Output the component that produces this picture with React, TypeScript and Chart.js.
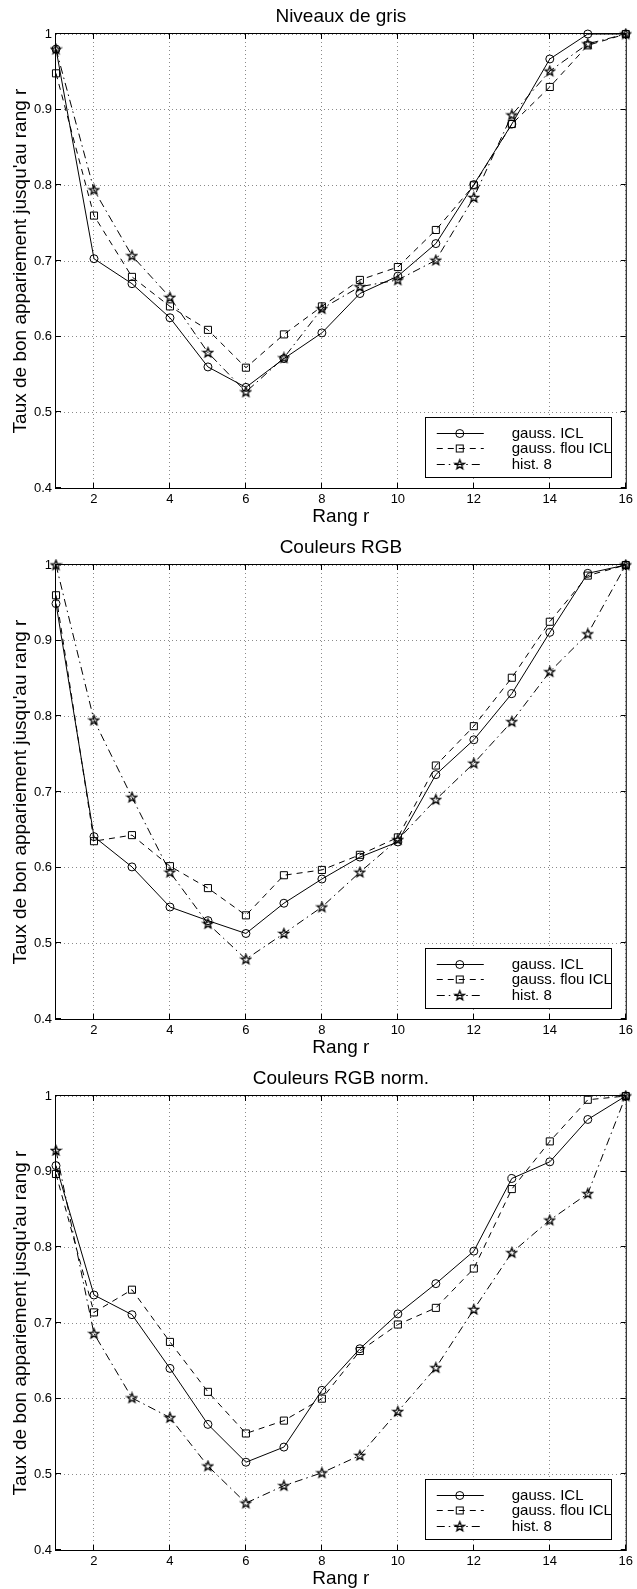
import React, { useEffect, useRef } from 'react';
import { Chart, registerables } from 'chart.js';

Chart.register(...registerables);

// ---------- data ----------
const RANKS = [1, 2, 3, 4, 5, 6, 7, 8, 9, 10, 11, 12, 13, 14, 15, 16];
const X_TICKS = [2, 4, 6, 8, 10, 12, 14, 16];
const Y_TICKS = [0.4, 0.5, 0.6, 0.7, 0.8, 0.9, 1];

const TITLES = ['Niveaux de gris', 'Couleurs RGB', 'Couleurs RGB norm.'];
const SERIES_LABELS = ['gauss. ICL', 'gauss. flou ICL', 'hist. 8'];
const X_LABEL = 'Rang r';
const Y_LABEL = "Taux de bon appariement jusqu'au rang r";

const GRIS_GAUSS = [0.98, 0.703, 0.67, 0.625, 0.56, 0.533, 0.571, 0.605, 0.657, 0.68, 0.723, 0.801, 0.881, 0.967, 1.0, 1.0];
const GRIS_FLOU = [0.948, 0.76, 0.679, 0.64, 0.609, 0.559, 0.603, 0.64, 0.675, 0.692, 0.741, 0.8, 0.881, 0.93, 0.985, 1.0];
const GRIS_HIST = [0.98, 0.794, 0.707, 0.652, 0.579, 0.527, 0.572, 0.637, 0.666, 0.675, 0.701, 0.784, 0.893, 0.951, 0.987, 1.0];

const RGB_GAUSS = [0.949, 0.641, 0.601, 0.548, 0.53, 0.513, 0.553, 0.585, 0.614, 0.634, 0.723, 0.769, 0.83, 0.911, 0.989, 1.0];
const RGB_FLOU = [0.96, 0.635, 0.643, 0.602, 0.573, 0.537, 0.59, 0.597, 0.617, 0.64, 0.735, 0.787, 0.851, 0.925, 0.986, 1.0];
const RGB_HIST = [1.0, 0.795, 0.693, 0.594, 0.526, 0.479, 0.513, 0.548, 0.594, 0.637, 0.69, 0.738, 0.793, 0.859, 0.909, 1.0];

const NORM_GAUSS = [0.908, 0.737, 0.711, 0.64, 0.566, 0.516, 0.536, 0.611, 0.666, 0.712, 0.752, 0.795, 0.891, 0.913, 0.969, 1.0];
const NORM_FLOU = [0.897, 0.714, 0.744, 0.675, 0.609, 0.554, 0.571, 0.6, 0.663, 0.698, 0.72, 0.772, 0.877, 0.94, 0.995, 1.0];
const NORM_HIST = [0.928, 0.686, 0.601, 0.575, 0.511, 0.462, 0.485, 0.502, 0.525, 0.583, 0.641, 0.718, 0.793, 0.836, 0.871, 1.0];

const PANELS = [
  [GRIS_GAUSS, GRIS_FLOU, GRIS_HIST],
  [RGB_GAUSS, RGB_FLOU, RGB_HIST],
  [NORM_GAUSS, NORM_FLOU, NORM_HIST],
];
const PANEL_HEIGHTS = [531, 531, 527];

// ---------- styles ----------
const FONT = '"Liberation Sans", Arial, Helvetica, sans-serif';
const DASHES: number[][] = [[], [6, 5], [8, 4, 1.5, 4]];
const PLOT_TOP = 34;
const PLOT_BOTTOM = 488;
const Y_AXIS_W = 56;
const RIGHT_PAD = 7;

let starImg: HTMLCanvasElement | null = null;
function getStar(): HTMLCanvasElement {
  if (starImg) return starImg;
  const s = 13;
  const c = document.createElement('canvas');
  c.width = s;
  c.height = s;
  const ctx = c.getContext('2d')!;
  const cx = s / 2;
  const cy = s / 2 + 0.3;
  const R = 5;
  const r = R * 0.42;
  ctx.beginPath();
  for (let i = 0; i < 10; i++) {
    const ang = -Math.PI / 2 + (i * Math.PI) / 5;
    const rad = i % 2 === 0 ? R : r;
    const px = cx + rad * Math.cos(ang);
    const py = cy + rad * Math.sin(ang);
    if (i === 0) ctx.moveTo(px, py);
    else ctx.lineTo(px, py);
  }
  ctx.closePath();
  ctx.strokeStyle = '#000';
  ctx.lineWidth = 1.3;
  ctx.stroke();
  starImg = c;
  return c;
}

function drawMarker(ctx: CanvasRenderingContext2D, style: any, x: number, y: number) {
  ctx.save();
  ctx.setLineDash([]);
  ctx.strokeStyle = '#000';
  ctx.lineWidth = 1;
  if (style === 'circle') {
    ctx.beginPath();
    ctx.arc(x, y, 4, 0, Math.PI * 2);
    ctx.stroke();
  } else if (style === 'rect') {
    ctx.strokeRect(x - 3.5, y - 3.5, 7, 7);
  } else if (style && style.width) {
    ctx.drawImage(style, x - style.width / 2, y - style.height / 2);
  }
  ctx.restore();
}

const decorPlugin = {
  id: 'decor',
  afterDraw(chart: any, _args: any, opts: any) {
    const { ctx, chartArea: a, scales } = chart;
    const xs = scales.x;
    const ys = scales.y;
    ctx.save();
    ctx.setLineDash([]);
    ctx.strokeStyle = '#000';
    ctx.lineWidth = 1;
    // frame
    ctx.strokeRect(a.left - 0.5, a.top - 0.5, a.right - a.left + 1, a.bottom - a.top + 1);
    // inner ticks
    ctx.beginPath();
    X_TICKS.forEach((v) => {
      const px = Math.round(xs.getPixelForValue(v)) - 0.5;
      ctx.moveTo(px, a.bottom);
      ctx.lineTo(px, a.bottom - 5);
      ctx.moveTo(px, a.top);
      ctx.lineTo(px, a.top + 5);
    });
    Y_TICKS.forEach((v) => {
      const py = Math.round(ys.getPixelForValue(v)) - 0.5;
      ctx.moveTo(a.left, py);
      ctx.lineTo(a.left + 5, py);
      ctx.moveTo(a.right, py);
      ctx.lineTo(a.right - 5, py);
    });
    ctx.stroke();

    // texts
    ctx.fillStyle = '#000';
    ctx.textAlign = 'center';
    ctx.textBaseline = 'middle';
    ctx.font = `19px ${FONT}`;
    const cx = (a.left + a.right) / 2;
    ctx.fillText(opts.title, cx, a.top - 17);
    ctx.fillText(X_LABEL, cx, a.bottom + 29);
    ctx.save();
    ctx.translate(21, (a.top + a.bottom) / 2);
    ctx.rotate(-Math.PI / 2);
    ctx.fillText(Y_LABEL, 0, 0);
    ctx.restore();

    // legend
    const bw = 186;
    const bh = 60;
    const bx = a.right - 15 - bw;
    const by = a.bottom - 11 - bh;
    ctx.fillStyle = '#fff';
    ctx.fillRect(bx, by, bw, bh);
    ctx.strokeStyle = '#000';
    ctx.lineWidth = 1;
    ctx.strokeRect(Math.round(bx) + 0.5, Math.round(by) + 0.5, bw, bh);
    ctx.font = `15px ${FONT}`;
    ctx.textAlign = 'left';
    ctx.textBaseline = 'middle';
    chart.data.datasets.forEach((ds: any, i: number) => {
      const ry = Math.round(by + 15.5 + i * 15.5) + 0.5;
      ctx.save();
      ctx.setLineDash(ds.borderDash || []);
      ctx.strokeStyle = '#000';
      ctx.lineWidth = 1;
      ctx.beginPath();
      ctx.moveTo(bx + 12, ry);
      ctx.lineTo(bx + 59, ry);
      ctx.stroke();
      ctx.restore();
      drawMarker(ctx, ds.pointStyle, bx + 35, ry);
      ctx.fillStyle = '#000';
      ctx.fillText(ds.label, bx + 87, ry + 0.5);
    });
    ctx.restore();
  },
};

function Panel({ index }: { index: number }) {
  const ref = useRef<HTMLCanvasElement | null>(null);
  const height = PANEL_HEIGHTS[index];
  useEffect(() => {
    const canvas = ref.current;
    if (!canvas) return;
    const series = PANELS[index];
    const styles: any[] = ['circle', 'rect', getStar()];
    const radii = [4, 5, 5];
    const datasets = series.map((vals, i) => ({
      label: SERIES_LABELS[i],
      data: RANKS.map((r, k) => ({ x: r, y: vals[k] })),
      borderColor: '#000',
      borderWidth: 1,
      borderDash: DASHES[i],
      pointStyle: styles[i],
      pointRadius: radii[i],
      pointBorderWidth: 1,
      pointBorderColor: '#000',
      pointBackgroundColor: 'rgba(0,0,0,0)',
      tension: 0,
      fill: false,
      clip: false,
    }));
    const tickFont = { family: FONT, size: 13 };
    const gridCommon = {
      color: '#8a8a8a',
      lineWidth: 1,
      drawTicks: false,
    };
    const chart = new Chart(canvas, {
      type: 'line',
      data: { datasets } as any,
      plugins: [decorPlugin as any],
      options: {
        animation: false,
        responsive: false,
        devicePixelRatio: 1,
        events: [],
        layout: { padding: { top: PLOT_TOP, right: RIGHT_PAD, left: 0, bottom: 0 } },
        plugins: {
          legend: { display: false },
          title: { display: false },
          tooltip: { enabled: false },
          decor: { title: TITLES[index] },
        } as any,
        scales: {
          x: {
            type: 'linear',
            min: 1,
            max: 16,
            afterBuildTicks: (s: any) => {
              s.ticks = X_TICKS.map((v) => ({ value: v }));
            },
            afterFit: (s: any) => {
              s.height = height - PLOT_BOTTOM;
            },
            grid: gridCommon,
            border: { display: false, dash: [1, 3] },
            ticks: {
              font: tickFont,
              color: '#000',
              padding: 4,
              autoSkip: false,
              maxRotation: 0,
              callback: (v: any) => String(v),
            },
          },
          y: {
            type: 'linear',
            min: 0.4,
            max: 1,
            afterBuildTicks: (s: any) => {
              s.ticks = Y_TICKS.map((v) => ({ value: v }));
            },
            afterFit: (s: any) => {
              s.width = Y_AXIS_W;
            },
            grid: gridCommon,
            border: { display: false, dash: [1, 3] },
            ticks: {
              font: tickFont,
              color: '#000',
              padding: 4,
              autoSkip: false,
              callback: (v: any) => String(v),
            },
          },
        } as any,
      },
    });
    return () => chart.destroy();
  }, [index, height]);
  return (
    <div style={{ width: 637, height, position: 'relative' }}>
      <canvas ref={ref} width={637} height={height} style={{ display: 'block', width: 637, height }} />
    </div>
  );
}

export default function App() {
  useEffect(() => {
    document.body.style.margin = '0';
    document.body.style.overflow = 'hidden';
    document.body.style.background = '#fff';
  }, []);
  return (
    <div style={{ position: 'absolute', left: 0, top: 0, width: 637, background: '#fff' }}>
      {PANELS.map((_, i) => (
        <Panel key={i} index={i} />
      ))}
    </div>
  );
}
